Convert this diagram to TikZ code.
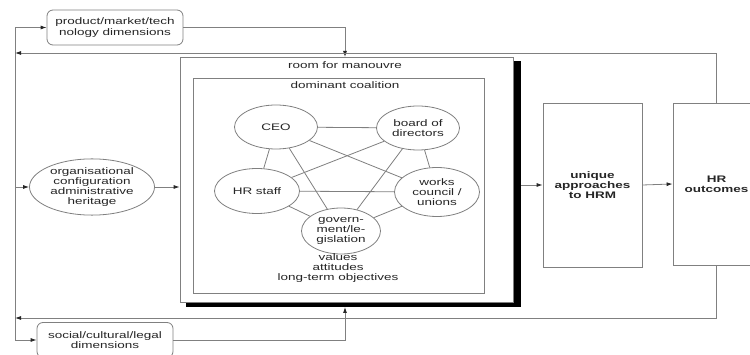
\documentclass[tikz,border=0pt]{standalone}
\usepackage{fontspec}
\setmainfont[FakeStretch=1.42]{Liberation Sans}
\usetikzlibrary{arrows.meta,shapes.geometric}
\begin{document}
\begin{tikzpicture}[x=1pt,y=-1pt,
  every node/.style={font=\fontsize{9.5}{10.3}\selectfont, text=black!85, align=center, inner sep=0pt},
  ln/.style={draw=black!50, line width=0.8pt},
  arr/.style={ln,-{Latex[length=6pt,width=4pt,color=black!85]}},
  rbox/.style={ln, rounded corners=6pt, minimum width=136pt, minimum height=35pt},
  sqbox/.style={ln, minimum width=99pt, minimum height=164pt, font=\fontsize{9.5}{10.3}\selectfont\bfseries},
  ell/.style={ln, ellipse},
]
\clip (0,0) rectangle (750,355);
\fill[white] (0,0) rectangle (750,355);

% main frames
\node[fill=black, minimum width=335pt, minimum height=246pt] (shadow) at (353.5,184.5) {};
\node[ln, fill=white, minimum width=333pt, minimum height=245pt] (room) at (346.5,179.5) {};
\node at (345,65) (roomlbl) {room for manouvre};
\node[ln, minimum width=291pt, minimum height=215pt] (dom) at (338.5,185.5) {};
\node at (345,85) (domlbl) {dominant coalition};

% outer boxes
\node[rbox] (prod) at (115,27.5) {product/market/tech\\nology dimensions};
\node[rbox] (soc) at (105,340) {social/cultural/legal\\dimensions};
\node[ell, minimum width=125pt, minimum height=56pt] (org) at (92,187) {organisational\\configuration\\administrative\\heritage};
\node[sqbox] (uni) at (592.5,185) {unique\\approaches\\to HRM};
\node[sqbox, minimum width=87pt, minimum height=162pt] (out) at (716.5,184) {HR\\outcomes};

% coalition members
\node[ell, minimum width=83pt, minimum height=44pt] (ceo) at (276,127) {CEO};
\node[ell, minimum width=83pt, minimum height=44pt] (board) at (418,128) {board of\\directors};
\node[ell, minimum width=85pt, minimum height=45pt] (hr) at (257,191) {HR staff};
\node[ell, minimum width=85pt, minimum height=49pt] (works) at (437,192) {works\\council /\\unions};
\node[ell, minimum width=79pt, minimum height=46pt] (gov) at (341,231) {govern-\\ment/le-\\gislation};
\node (vals) at (338,268) {values\\attitudes\\long-term objectives};

\foreach \a/\b in {ceo/board, ceo/hr, ceo/works, ceo/gov, board/hr, board/works, board/gov, hr/works, hr/gov, works/gov}
  \draw[ln] (\a) -- (\b);

% connectors
\coordinate (lt) at (15,27.5);
\coordinate (lb) at (15,340);
\coordinate (lm) at (15,187);
\coordinate (ft) at (15,53);
\coordinate (fb) at (15,318);
\coordinate (rt) at (345,57);
\coordinate (rb) at (345,307);
\coordinate (rs) at (521,185);

\draw[ln] (lt) -- (lb);
\draw[arr] (lt) -- (prod.west);
\draw[arr] (lb) -- (soc.west);
\draw[arr] (lm) -- (org.west);
\draw[arr] (org.east) -- (room.west |- org.east);
\draw[arr] (prod.east) -| (rt);
\draw[arr] (soc.east) -| (rb);
\draw[arr] (out.north) |- (ft);
\draw[arr] (out.south) |- (fb);
\draw[arr] (rs) -- (uni.west);
\draw[arr] (uni.east) -- (out.west);
\end{tikzpicture}
\end{document}
